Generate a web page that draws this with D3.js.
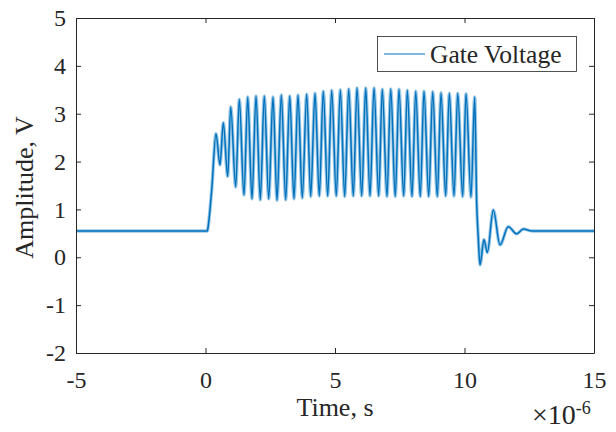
<!DOCTYPE html>
<html>
<head>
<meta charset="utf-8">
<script src="https://cdn.jsdelivr.net/npm/d3@7"></script>
<style>
  body { margin: 0; background: #fff; }
  svg { display: block; }
  text { font-family: "Liberation Serif", "Times New Roman", serif; fill: #262626; }
</style>
</head>
<body>
<div id="chart"></div>
<script>
// time in microseconds (axis shows x10^-6), amplitude in volts
const preT = [-5, 0.07, 0.08, 0.24, 0.405, 0.56, 0.687];
const preV = [0.55, 0.55, 0.57, 1.41, 2.58, 1.93, 2.81];

const peakT = [0.973, 1.305, 1.629, 1.95, 2.27, 2.606, 2.927, 3.251, 3.571, 3.907,
  4.228, 4.548, 4.873, 5.205, 5.529, 5.849, 6.185, 6.506, 6.826, 7.151,
  7.471, 7.792, 8.116, 8.436, 8.772, 9.093, 9.413, 9.737, 10.058, 10.394];
const peakV = [3.14, 3.3, 3.35, 3.37, 3.37, 3.35, 3.39, 3.37, 3.39, 3.41,
  3.43, 3.47, 3.49, 3.5, 3.52, 3.54, 3.54, 3.54, 3.51, 3.52,
  3.51, 3.49, 3.47, 3.47, 3.46, 3.44, 3.43, 3.43, 3.42, 3.35];

const troughT = [0.857, 1.166, 1.486, 1.795, 2.116, 2.44, 2.761, 3.097, 3.417, 3.737,
  4.062, 4.394, 4.718, 5.05, 5.375, 5.707, 6.031, 6.351, 6.687, 7.008,
  7.328, 7.653, 7.973, 8.293, 8.618, 8.95, 9.274, 9.595, 9.931, 10.251];
const troughV = [1.69, 1.47, 1.3, 1.22, 1.2, 1.22, 1.19, 1.2, 1.22, 1.24,
  1.27, 1.28, 1.28, 1.28, 1.27, 1.28, 1.28, 1.28, 1.28, 1.27,
  1.27, 1.28, 1.27, 1.27, 1.27, 1.27, 1.28, 1.28, 1.27, 1.26];

const tailT = [10.47, 10.53, 10.598, 10.753, 10.88, 11.112, 11.371, 11.691, 12.015, 12.27, 12.6, 15];
const tailV = [1.14, 0.43, -0.16, 0.37, 0.1, 0.99, 0.26, 0.64, 0.49, 0.59, 0.55, 0.55];

const xTicks = [-5, 0, 5, 10, 15];
const yTicks = [-2, -1, 0, 1, 2, 3, 4, 5];
const seriesName = "Gate Voltage";

const W = 616, H = 432;
const margin = { left: 76, right: 22, top: 18, bottom: 79 };
const blue = "#0072BD";
const axisColor = "#262626";
const tickFont = 24;
const labelFont = 26;

const pts = [];
const add = (ts, vs) => ts.forEach((t, i) => pts.push({ t, v: vs[i] }));
add(preT, preV);
add(peakT, peakV);
add(troughT, troughV);
add(tailT, tailV);
pts.sort((a, b) => a.t - b.t);

const svg = d3.select("#chart").append("svg")
  .attr("width", W)
  .attr("height", H);

const x = d3.scaleLinear().domain([-5, 15]).range([margin.left, W - margin.right]);
const y = d3.scaleLinear().domain([-2, 5]).range([H - margin.bottom, margin.top]);

const line = d3.line()
  .x(d => x(d.t))
  .y(d => y(d.v))
  .curve(d3.curveMonotoneX);

// noisy-looking halo under the trace
svg.append("path")
  .datum(pts)
  .attr("fill", "none")
  .attr("stroke", blue)
  .attr("stroke-opacity", 0.4)
  .attr("stroke-width", 3.4)
  .attr("d", line);

svg.append("path")
  .datum(pts)
  .attr("fill", "none")
  .attr("stroke", blue)
  .attr("stroke-width", 1.5)
  .attr("d", line);

const fmt = d => String(d);

const styleAxis = (g) => {
  g.selectAll("path").attr("stroke", axisColor).attr("stroke-width", 1);
  g.selectAll("line").attr("stroke", axisColor).attr("stroke-width", 1);
  g.selectAll("text")
    .attr("font-family", "Liberation Serif, Times New Roman, serif")
    .attr("font-size", tickFont)
    .attr("fill", axisColor);
};

const tick = 5;
const xAxis = svg.append("g")
  .attr("transform", `translate(0,${H - margin.bottom})`)
  .call(d3.axisBottom(x).tickValues(xTicks).tickFormat(fmt).tickSizeInner(-tick).tickSizeOuter(0));
xAxis.call(styleAxis);
xAxis.selectAll("text").attr("dy", null).attr("y", 35);

const xTop = svg.append("g")
  .attr("transform", `translate(0,${margin.top})`)
  .call(d3.axisTop(x).tickValues(xTicks).tickSizeInner(-tick).tickSizeOuter(0).tickFormat(""));
xTop.call(styleAxis);

const yAxis = svg.append("g")
  .attr("transform", `translate(${margin.left},0)`)
  .call(d3.axisLeft(y).tickValues(yTicks).tickFormat(fmt).tickSizeInner(-tick).tickSizeOuter(0));
yAxis.call(styleAxis);
yAxis.selectAll("text").attr("x", -10);

const yRight = svg.append("g")
  .attr("transform", `translate(${W - margin.right},0)`)
  .call(d3.axisRight(y).tickValues(yTicks).tickSizeInner(-tick).tickSizeOuter(0).tickFormat(""));
yRight.call(styleAxis);

// axis labels
svg.append("text")
  .attr("x", (margin.left + W - margin.right) / 2)
  .attr("y", 416)
  .attr("text-anchor", "middle")
  .attr("font-size", labelFont)
  .text("Time, s");

svg.append("text")
  .attr("transform", `translate(33,${(margin.top + H - margin.bottom) / 2 + 2}) rotate(-90)`)
  .attr("text-anchor", "middle")
  .attr("font-size", labelFont)
  .text("Amplitude, V");

// exponent
const expo = svg.append("text")
  .attr("x", 532)
  .attr("y", 424)
  .attr("font-size", 28);
expo.append("tspan").text("\u00d710");
expo.append("tspan").attr("dy", -10).attr("font-size", 18).text("-6");

// legend
const lg = svg.append("g");
lg.append("rect")
  .attr("x", 377.5).attr("y", 36.5)
  .attr("width", 199).attr("height", 35)
  .attr("fill", "#fff")
  .attr("stroke", axisColor)
  .attr("stroke-width", 0.8);
lg.append("line")
  .attr("x1", 384).attr("x2", 425)
  .attr("y1", 54).attr("y2", 54)
  .attr("stroke", blue)
  .attr("stroke-width", 1.2);
lg.append("text")
  .attr("x", 430)
  .attr("y", 63)
  .attr("font-size", 25.5)
  .attr("fill", "#000")
  .text(seriesName);
</script>
</body>
</html>
